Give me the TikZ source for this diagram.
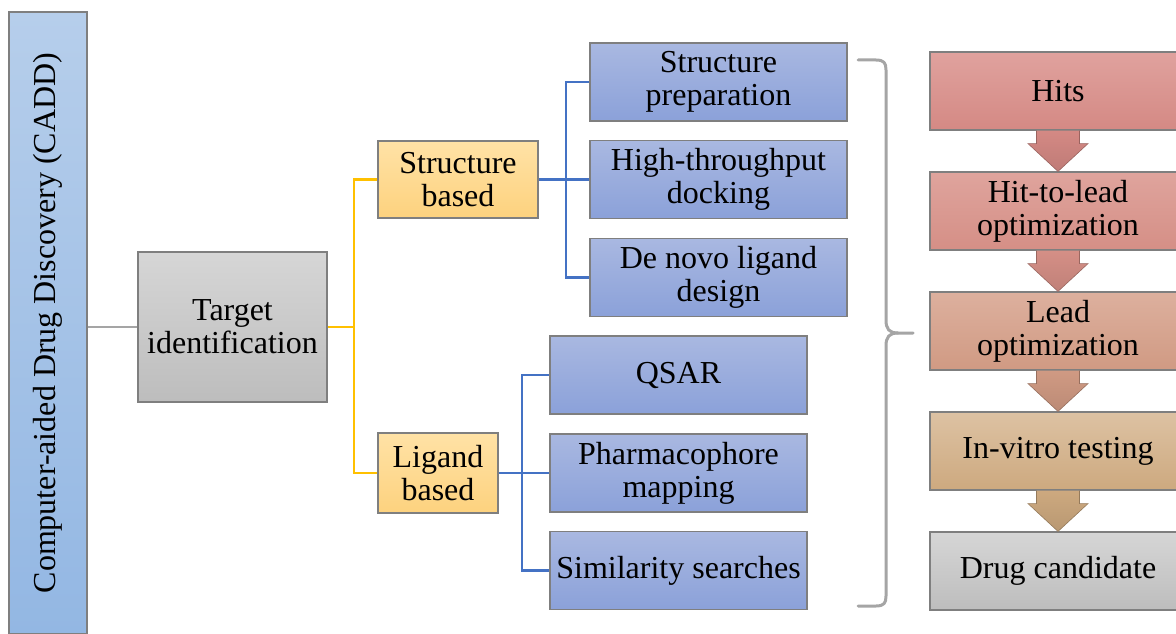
\documentclass[tikz,border=0pt]{standalone}
\usepackage{fontspec}
\setmainfont{Liberation Serif}
\usetikzlibrary{calc}
\definecolor{barTop}{HTML}{B6CEEB}
\definecolor{barBot}{HTML}{93B7E3}
\definecolor{grTop}{HTML}{D6D6D6}
\definecolor{grBot}{HTML}{BDBDBD}
\definecolor{orTop}{HTML}{FFE2A6}
\definecolor{orBot}{HTML}{FDD27E}
\definecolor{blTop}{HTML}{A9B8E1}
\definecolor{blBot}{HTML}{8BA1D9}
\definecolor{hiTop}{HTML}{E0A29E}
\definecolor{hiBot}{HTML}{D48984}
\definecolor{hlTop}{HTML}{DFA49D}
\definecolor{hlBot}{HTML}{D58F86}
\definecolor{loTop}{HTML}{DDB09E}
\definecolor{loBot}{HTML}{D09A83}
\definecolor{ivTop}{HTML}{DDC2A3}
\definecolor{ivBot}{HTML}{CDA97F}
\definecolor{yelLine}{HTML}{FFC000}
\definecolor{bluLine}{HTML}{4472C4}
\definecolor{bordC}{HTML}{7F7F7F}
\definecolor{braceC}{HTML}{A5A5A5}
\tikzset{
  box/.style={draw=bordC, line width=1.2pt, align=center, inner sep=2pt,
    font=\fontsize{32}{33}\selectfont, text=black},
  bluebox/.style={box, minimum width=257pt, minimum height=78pt, top color=blTop, bottom color=blBot},
  orbox/.style={box, top color=orTop, bottom color=orBot},
  stepbox/.style={box, minimum width=256pt, minimum height=78pt},
  yline/.style={draw=yelLine, line width=2.5pt},
  bline/.style={draw=bluLine, line width=2.5pt},
}
\newcommand{\blockarrow}[4]{%
  \draw[draw=#4!80!black, line width=0.6pt, top color=#3, bottom color=#4]
    ($(#1.south)+(-21.5,0)$) -- ($(#1.south)+(-21.5,-13)$) -- ($(#1.south)+(-30,-13)$)
    -- (#2.north) -- ($(#1.south)+(30,-13)$) -- ($(#1.south)+(21.5,-13)$)
    -- ($(#1.south)+(21.5,0)$);}
\begin{document}
\begin{tikzpicture}[x=1pt,y=1pt]
\useasboundingbox (0,0) rectangle (1176,-634);
\clip (0,0) rectangle (1176,-634);
% left bar
\node[box, rotate=90, minimum width=622pt, minimum height=78pt, top color=barTop, bottom color=barBot,
  font=\fontsize{32}{36}\selectfont] (cadd) at (48,-323) {Computer-aided Drug Discovery (CADD)};
% target
\node[box, minimum width=189pt, minimum height=150pt, top color=grTop, bottom color=grBot] (target) at (232.5,-327) {Target\\identification};
% structure / ligand based
\node[orbox, minimum width=160pt, minimum height=77pt] (sb) at (458,-179.5) {Structure\\based};
\node[orbox, minimum width=120pt, minimum height=80pt] (lb) at (438,-473) {Ligand\\based};
% blue boxes
\node[bluebox] (sp) at (718.5,-82) {Structure\\preparation};
\node[bluebox] (htd) at (718.5,-179.5) {High-throughput\\docking};
\node[bluebox] (dn) at (718.5,-277.5) {De novo ligand\\design};
\node[bluebox] (qsar) at (678.5,-375) {QSAR};
\node[bluebox] (pm) at (678.5,-473) {Pharmacophore\\mapping};
\node[bluebox] (ss) at (678.5,-570.5) {Similarity searches};
% connectors
\draw[draw=braceC, line width=2pt] (cadd.south |- target.west) -- (target.west);
\coordinate (yj) at (354,-327);
\draw[yline] (target.east) -- (yj);
\draw[yline] (yj) |- (sb.west);
\draw[yline] (yj) |- (lb.west);
\coordinate (bj1) at (566,-179.5);
\draw[bline] (sb.east) -- (htd.west);
\draw[bline] (bj1) |- (sp.west);
\draw[bline] (bj1) |- (dn.west);
\coordinate (bj2) at (522,-473);
\draw[bline] (lb.east) -- (pm.west);
\draw[bline] (bj2) |- (qsar.west);
\draw[bline] (bj2) |- (ss.west);
% brace
\draw[draw=braceC, line width=3pt, line cap=round, line join=round]
  (858,-60) -- (876,-60) .. controls (884,-60) and (886,-63) .. (886,-70) -- (886,-320)
  .. controls (886,-329) and (889,-333) .. (898,-333) -- (913,-333);
\draw[draw=braceC, line width=3pt, line cap=round, line join=round]
  (898,-333) .. controls (889,-333) and (886,-337) .. (886,-346) -- (886,-596)
  .. controls (886,-603) and (884,-606) .. (876,-606) -- (858,-606);
% right column
\node[stepbox, top color=hiTop, bottom color=hiBot] (hits) at (1058,-91) {Hits};
\node[stepbox, top color=hlTop, bottom color=hlBot] (h2l) at (1058,-211) {Hit-to-lead\\optimization};
\node[stepbox, top color=loTop, bottom color=loBot] (lo) at (1058,-331) {Lead\\optimization};
\node[stepbox, top color=ivTop, bottom color=ivBot] (iv) at (1058,-451) {In-vitro testing};
\node[stepbox, top color=grTop, bottom color=grBot] (dc) at (1058,-571) {Drug candidate};
\blockarrow{hits}{h2l}{hiBot}{hiBot!90!black}
\blockarrow{h2l}{lo}{hlBot}{hlBot!90!black}
\blockarrow{lo}{iv}{loBot}{loBot!90!black}
\blockarrow{iv}{dc}{ivBot}{ivBot!90!black}
\end{tikzpicture}
\end{document}
